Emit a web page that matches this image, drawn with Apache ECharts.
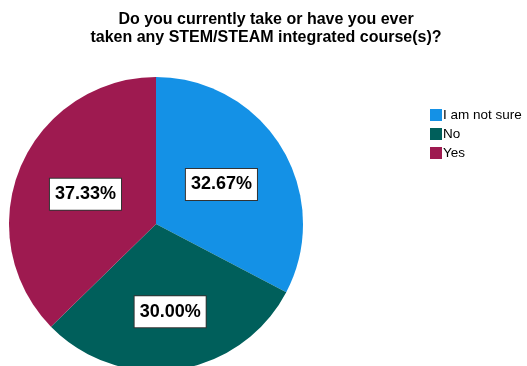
<!DOCTYPE html>
<html><head><meta charset="utf-8">
<script src="https://cdn.jsdelivr.net/npm/echarts@6/dist/echarts.min.js"></script>
<style>html,body{margin:0;padding:0;background:#fff}#c{width:527px;height:366px}</style>
</head><body><div id="c"></div>
<script>
var categories = ["I am not sure", "No", "Yes"];
var values = [32.67, 30.00, 37.33];
var colors = ["#1491E6", "#005F5B", "#9E1A50"];
var titleLines = ["Do you currently take or have you ever", "taken any STEM/STEAM integrated course(s)?"];

var chart = echarts.init(document.getElementById('c'), null, {renderer: 'canvas'});
var data = categories.map(function (n, i) {
  var d = {name: n, value: values[i], itemStyle: {color: colors[i]}};
  if (i === 1) d.label = {offset: [3, 12]};
  return d;
});
chart.setOption({
  animation: false,
  title: {
    text: titleLines.join('\n'),
    left: 261, top: 6, textAlign: 'center',
    textStyle: {fontFamily: 'Liberation Sans, Arial', fontWeight: 'bold', fontSize: 16, color: '#000', lineHeight: 18}
  },
  legend: {
    orient: 'vertical', left: 425, top: 103,
    itemWidth: 12, itemHeight: 12, itemGap: 5,
    icon: 'rect',
    textStyle: {fontFamily: 'Liberation Sans, Arial', fontSize: 13.5, color: '#000', padding: [0, 0, 0, -4]},
    data: categories
  },
  series: [{
    type: 'pie',
    center: [156, 224], radius: [0, 147],
    startAngle: 90, clockwise: true,
    label: {
      show: true, position: 'inside',
      formatter: function (p) { return p.value.toFixed(2) + '%'; },
      fontFamily: 'Liberation Sans, Arial', fontWeight: 'bold', fontSize: 18, color: '#000',
      backgroundColor: '#fff', borderColor: '#333', borderWidth: 1, padding: [7, 5, 6, 5]
    },
    labelLine: {show: false},
    itemStyle: {borderWidth: 0},
    emphasis: {disabled: true},
    data: data
  }]
});
</script></body></html>
